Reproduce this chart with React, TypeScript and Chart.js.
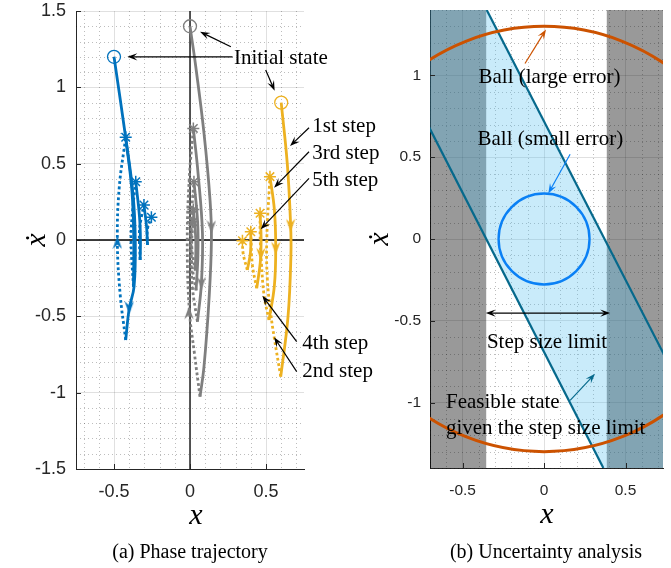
import React, { useEffect, useRef } from "react";
import { Chart, registerables } from "chart.js";
Chart.register(...registerables);

type P = [number, number];

// ================= (a) Phase trajectory =================
const xTicksA = [-0.5, 0, 0.5];
const yTicksA = [-1.5, -1, -0.5, 0, 0.5, 1, 1.5];

const blueInitial: P[] = [[-0.5, 1.2]];
const blueSolidSteps: P[][] = [
  [[-0.5, 1.2], [-0.423, 0.67], [-0.375, 0.3], [-0.36, 0.0], [-0.368, -0.306], [-0.4, -0.45], [-0.423, -0.655]],
  [[-0.423, 0.67], [-0.382, 0.32], [-0.37, 0.0], [-0.372, -0.306]],
  [[-0.357, 0.382], [-0.332, 0.15], [-0.326, 0.0], [-0.328, -0.131]],
  [[-0.303, 0.229], [-0.285, 0.08], [-0.28, -0.033]],
];
const blueDottedSteps: P[][] = [
  [[-0.423, -0.655], [-0.46, -0.35], [-0.478, 0.0], [-0.465, 0.35], [-0.423, 0.67]],
  [[-0.372, -0.306], [-0.388, 0.0], [-0.377, 0.2], [-0.357, 0.382]],
  [[-0.328, -0.131], [-0.333, 0.05], [-0.32, 0.15], [-0.303, 0.229]],
  [[-0.28, -0.033], [-0.28, 0.07], [-0.254, 0.149]],
];
const blueStars: P[] = [[-0.423, 0.673], [-0.357, 0.382], [-0.303, 0.229], [-0.254, 0.149]];
const blueArrowsDown: P[] = [[-0.4, -0.44]];
const blueArrowsUp: P[] = [[-0.478, -0.02]];

const grayInitial: P[] = [[0.0, 1.4]];
const graySolidSteps: P[][] = [
  [[0.0, 1.4], [0.038, 1.135], [0.092, 0.7], [0.132, 0.26], [0.141, 0.0], [0.125, -0.39], [0.092, -0.83], [0.066, -1.026]],
  [[0.022, 0.731], [0.053, 0.437], [0.082, 0.044], [0.075, -0.284], [0.049, -0.535]],
  [[0.026, 0.382], [0.05, 0.12], [0.052, -0.1], [0.04, -0.33]],
  [[0.022, 0.2], [0.038, 0.0], [0.035, -0.2]],
];
const grayDottedSteps: P[][] = [
  [[0.066, -1.026], [0.03, -0.75], [-0.005, -0.45], [-0.018, 0.0], [-0.005, 0.4], [0.022, 0.731]],
  [[0.049, -0.535], [0.015, -0.3], [0.005, 0.0], [0.012, 0.2], [0.026, 0.382]],
  [[0.04, -0.33], [0.012, -0.15], [0.008, 0.05], [0.022, 0.2]],
  [[0.035, -0.2], [0.012, -0.05], [0.02, 0.12]],
];
const grayStars: P[] = [[0.022, 0.731], [0.026, 0.382], [0.022, 0.2], [0.02, 0.12]];
const grayArrowsDown: P[] = [[0.141, 0.09], [0.075, -0.28]];
const grayArrowsUp: P[] = [[-0.007, -0.48]];

const orangeInitial: P[] = [[0.6, 0.9]];
const orangeSolidSteps: P[][] = [
  [[0.6, 0.9], [0.64, 0.5], [0.662, 0.1], [0.664, -0.1], [0.645, -0.5], [0.597, -0.895]],
  [[0.526, 0.415], [0.555, 0.2], [0.564, -0.05], [0.555, -0.3], [0.52, -0.524]],
  [[0.461, 0.175], [0.468, 0.0], [0.462, -0.15], [0.439, -0.316]],
  [[0.4, 0.054], [0.398, -0.08], [0.377, -0.196]],
];
const orangeDottedSteps: P[][] = [
  [[0.597, -0.895], [0.553, -0.633], [0.531, -0.48], [0.509, -0.26], [0.505, 0.0], [0.526, 0.415]],
  [[0.52, -0.524], [0.487, -0.36], [0.47, -0.15], [0.462, 0.0], [0.461, 0.175]],
  [[0.439, -0.316], [0.41, -0.16], [0.4, 0.054]],
  [[0.377, -0.196], [0.35, -0.09], [0.345, -0.005]],
];
const orangeStars: P[] = [[0.526, 0.415], [0.461, 0.175], [0.4, 0.054], [0.345, -0.005]];
const orangeArrowsDown: P[] = [[0.662, 0.1], [0.564, -0.05], [0.466, -0.09]];
const orangeArrowsUp: P[] = [];

// ================= (b) Uncertainty analysis =================
const xTicksB = [-0.5, 0, 0.5];
const yTicksB = [-1, -0.5, 0, 0.5, 1];
const stepLimitLeftBand: P[] = [[-0.7, 1.4], [-0.355, 1.4], [-0.355, -1.4], [-0.7, -1.4]];
const stepLimitRightBand: P[] = [[0.385, 1.4], [0.73, 1.4], [0.73, -1.4], [0.385, -1.4]];
const feasibleUpper: P[] = [[-0.352, 1.4], [0.8, -0.83]];
const feasibleLower: P[] = [[-0.75, 0.77], [0.364, -1.4]];
const feasibleRegion: P[] = [[-0.352, 1.4], [0.8, -0.83], [0.8, -1.4], [0.364, -1.4], [-0.75, 0.77], [-0.75, 1.4]];
const ballCenter: P[] = [[0, 0]];
const ballLargeRadius = 1.3;
const ballSmallRadius = 0.278;

// ================= styles =================
const BLUE = "#0072BD";
const GRAY = "#7f7f7f";
const YELLOW = "#EDB120";
const ORANGE = "#CC5200";
const LIGHTBLUE = "#0A80F5";
const TEAL = "#06698C";
const AXIS = "#262626";
const SERIF = '"Liberation Serif", "Times New Roman", serif';
const SANS = '"Liberation Sans", Arial, sans-serif';

const toXY = (ps: P[]) => ps.map(([x, y]) => ({ x, y }));

function makeHead(color: string, up: boolean) {
  const c = document.createElement("canvas");
  c.width = 10;
  c.height = 14;
  const g = c.getContext("2d")!;
  g.fillStyle = color;
  g.beginPath();
  if (!up) {
    g.moveTo(5, 14); g.lineTo(0.3, 1); g.lineTo(5, 5.5); g.lineTo(9.7, 1);
  } else {
    g.moveTo(5, 0); g.lineTo(0.3, 13); g.lineTo(5, 8.5); g.lineTo(9.7, 13);
  }
  g.closePath();
  g.fill();
  return c;
}

function makeScale(min: number, max: number, ticks: number[], size: number, padding: number, fit: { width?: number; height?: number }) {
  return {
    type: "linear",
    min,
    max,
    afterBuildTicks: (s: any) => { s.ticks = ticks.map((v) => ({ value: v })); },
    afterFit: (s: any) => {
      if (fit.width !== undefined) s.width = fit.width;
      if (fit.height !== undefined) s.height = fit.height;
      s.paddingTop = 0; s.paddingBottom = 0; s.paddingLeft = 0; s.paddingRight = 0;
    },
    ticks: { font: { family: SANS, size }, color: AXIS, padding, maxRotation: 0, autoSkip: false, callback: (v: any) => String(v) },
    grid: { color: "rgba(0,0,0,0.12)", lineWidth: 1, drawTicks: false },
    border: { display: true, color: AXIS, width: 1 },
  };
}

function drawArrow(ctx: CanvasRenderingContext2D, x1: number, y1: number, x2: number, y2: number, color: string, both = false) {
  const head = 10, hw = 3.6;
  const a = Math.atan2(y2 - y1, x2 - x1);
  const c = Math.cos(a), s = Math.sin(a);
  ctx.save();
  ctx.strokeStyle = color; ctx.fillStyle = color; ctx.lineWidth = 1.2; ctx.setLineDash([]);
  const sx = both ? x1 + 0.6 * head * c : x1, sy = both ? y1 + 0.6 * head * s : y1;
  ctx.beginPath(); ctx.moveTo(sx, sy); ctx.lineTo(x2 - 0.6 * head * c, y2 - 0.6 * head * s); ctx.stroke();
  const hd = (x: number, y: number, cc: number, ss: number) => {
    ctx.beginPath();
    ctx.moveTo(x, y);
    ctx.lineTo(x - head * cc + hw * ss, y - head * ss - hw * cc);
    ctx.lineTo(x - 0.6 * head * cc, y - 0.6 * head * ss);
    ctx.lineTo(x - head * cc - hw * ss, y - head * ss + hw * cc);
    ctx.closePath(); ctx.fill();
  };
  hd(x2, y2, c, s);
  if (both) hd(x1, y1, -c, -s);
  ctx.restore();
}

const gridPlugin = {
  id: "minorGrid",
  beforeDatasetsDraw(chart: any, _a: any, opts: any) {
    const { ctx, chartArea: { left, right, top, bottom }, scales: { x, y } } = chart;
    ctx.save();
    ctx.strokeStyle = "rgba(0,0,0,0.26)";
    ctx.lineWidth = 1;
    ctx.setLineDash([1, 3]);
    for (let v = Math.ceil(x.min * 10 - 1e-9); v <= Math.floor(x.max * 10 + 1e-9); v++) {
      if (v % 5 === 0) continue;
      const px = Math.round(x.getPixelForValue(v / 10)) + 0.5;
      ctx.beginPath(); ctx.moveTo(px, top); ctx.lineTo(px, bottom); ctx.stroke();
    }
    for (let v = Math.ceil(y.min * 10 - 1e-9); v <= Math.floor(y.max * 10 + 1e-9); v++) {
      if (v % 5 === 0) continue;
      const py = Math.round(y.getPixelForValue(v / 10)) + 0.5;
      ctx.beginPath(); ctx.moveTo(left, py); ctx.lineTo(right, py); ctx.stroke();
    }
    ctx.setLineDash([]);
    if (opts.zeroLines) {
      ctx.strokeStyle = "#000";
      ctx.lineWidth = 1.3;
      const px = x.getPixelForValue(0), py = y.getPixelForValue(0);
      ctx.beginPath(); ctx.moveTo(px, top); ctx.lineTo(px, bottom); ctx.stroke();
      ctx.beginPath(); ctx.moveTo(left, py); ctx.lineTo(right, py); ctx.stroke();
    }
    ctx.restore();
  },
};

const annPlugin = {
  id: "ann",
  afterDraw(chart: any, _a: any, opts: any) {
    const { ctx, chartArea: { left, bottom }, scales: { x, y } } = chart;
    ctx.save();
    // inward ticks
    ctx.strokeStyle = AXIS; ctx.lineWidth = 1;
    for (const t of x.ticks) {
      const px = Math.round(x.getPixelForValue(t.value)) + 0.5;
      ctx.beginPath(); ctx.moveTo(px, bottom); ctx.lineTo(px, bottom - 5); ctx.stroke();
    }
    for (const t of y.ticks) {
      const py = Math.round(y.getPixelForValue(t.value)) + 0.5;
      ctx.beginPath(); ctx.moveTo(left, py); ctx.lineTo(left + 5, py); ctx.stroke();
    }
    // arrows
    for (const a of opts.arrows) {
      drawArrow(ctx, x.getPixelForValue(a.from[0]), y.getPixelForValue(a.from[1]), x.getPixelForValue(a.to[0]), y.getPixelForValue(a.to[1]), a.color || "#000", !!a.both);
    }
    // texts
    ctx.fillStyle = "#000";
    ctx.textBaseline = "middle";
    ctx.font = `${opts.fontSize}px ${SERIF}`;
    for (const t of opts.texts) {
      ctx.textAlign = t.align || "left";
      ctx.fillText(t.t, x.getPixelForValue(t.x), y.getPixelForValue(t.y));
    }
    // axis titles
    ctx.font = `italic ${opts.titleSize}px ${SERIF}`;
    ctx.textAlign = "center";
    ctx.fillText("x", opts.xTitle[0], opts.xTitle[1]);
    ctx.translate(opts.yTitle[0], opts.yTitle[1]);
    ctx.rotate(-Math.PI / 2);
    ctx.fillText("ẋ", 0, 0);
    ctx.restore();
  },
};

function trajectory(color: string, initial: P[], solids: P[][], dotteds: P[][], stars: P[], down: P[], up: P[]) {
  const ds: any[] = [];
  ds.push({ data: toXY(initial), showLine: false, pointStyle: "circle", pointRadius: 6.5, pointBorderWidth: 1.3, pointBorderColor: color, pointBackgroundColor: "rgba(0,0,0,0)", order: 0 });
  ds.push({ data: toXY(stars), showLine: false, pointStyle: "star", pointRadius: 6, pointBorderWidth: 1.5, pointBorderColor: color, order: 0 });
  ds.push({ data: toXY(down), showLine: false, pointStyle: makeHead(color, false), pointRadius: 4, order: 1 });
  if (up.length) ds.push({ data: toXY(up), showLine: false, pointStyle: makeHead(color, true), pointRadius: 4, order: 1 });
  for (const s of solids) ds.push({ data: toXY(s), showLine: true, borderColor: color, borderWidth: 2.8, pointRadius: 0, tension: 0.4, fill: false, order: 2 });
  for (const d of dotteds) ds.push({ data: toXY(d), showLine: true, borderColor: color, borderWidth: 2.8, borderDash: [2.8, 2.6], pointRadius: 0, tension: 0.4, fill: false, order: 3 });
  return ds;
}

function configA(): any {
  return {
    type: "line",
    data: {
      datasets: [
        ...trajectory(BLUE, blueInitial, blueSolidSteps, blueDottedSteps, blueStars, blueArrowsDown, blueArrowsUp),
        ...trajectory(GRAY, grayInitial, graySolidSteps, grayDottedSteps, grayStars, grayArrowsDown, grayArrowsUp),
        ...trajectory(YELLOW, orangeInitial, orangeSolidSteps, orangeDottedSteps, orangeStars, orangeArrowsDown, orangeArrowsUp),
      ],
    },
    options: {
      responsive: false,
      animation: false,
      events: [],
      layout: { padding: { left: 0, right: 81, top: 11, bottom: 0 } },
      scales: {
        x: makeScale(-0.75, 0.75, xTicksA, 18, 12, { height: 99 }),
        y: makeScale(-1.5, 1.5, yTicksA, 18, 10, { width: 76 }),
      },
      plugins: {
        legend: { display: false },
        tooltip: { enabled: false },
        minorGrid: { zeroLines: true },
        ann: {
          fontSize: 21,
          titleSize: 30,
          xTitle: [196, 516],
          yTitle: [37, 240],
          texts: [
            { t: "Initial state", x: 0.289, y: 1.19 },
            { t: "1st step", x: 0.805, y: 0.742 },
            { t: "3rd step", x: 0.805, y: 0.568 },
            { t: "5th step", x: 0.805, y: 0.388 },
            { t: "4th step", x: 0.739, y: -0.677 },
            { t: "2nd step", x: 0.739, y: -0.858 },
          ],
          arrows: [
            { from: [0.28, 1.2], to: [-0.412, 1.2] },
            { from: [0.269, 1.266], to: [0.066, 1.364] },
            { from: [0.498, 1.113], to: [0.557, 0.978] },
            { from: [0.783, 0.735], to: [0.658, 0.616] },
            { from: [0.783, 0.578], to: [0.553, 0.343] },
            { from: [0.783, 0.404], to: [0.465, 0.07] },
            { from: [0.702, -0.666], to: [0.476, -0.365] },
            { from: [0.702, -0.862], to: [0.553, -0.637] },
          ],
        },
      },
    },
    plugins: [gridPlugin, annPlugin],
  };
}

function configB(): any {
  const radiusPx = (r: number) => (ctx: any) => {
    const s = ctx.chart.scales.y;
    return s.getPixelForValue(0) - s.getPixelForValue(r);
  };
  return {
    type: "line",
    data: {
      datasets: [
        { data: toXY(ballCenter), showLine: false, pointStyle: "circle", pointRadius: radiusPx(ballSmallRadius), pointBorderWidth: 2.4, pointBorderColor: LIGHTBLUE, pointBackgroundColor: "rgba(0,0,0,0)", clip: 0, order: 0 },
        { data: toXY(ballCenter), showLine: false, pointStyle: "circle", pointRadius: radiusPx(ballLargeRadius), pointBorderWidth: 3, pointBorderColor: ORANGE, pointBackgroundColor: "rgba(0,0,0,0)", clip: 0, order: 1 },
        { data: toXY(feasibleUpper), borderColor: TEAL, borderWidth: 2.2, pointRadius: 0, tension: 0, fill: false, clip: 0, order: 2 },
        { data: toXY(feasibleLower), borderColor: TEAL, borderWidth: 2.2, pointRadius: 0, tension: 0, fill: false, clip: 0, order: 2 },
        { data: toXY(feasibleRegion), borderWidth: 0, borderColor: "rgba(0,0,0,0)", backgroundColor: "rgba(77,190,238,0.3)", pointRadius: 0, tension: 0, fill: "shape", clip: 0, order: 3 },
        { data: toXY(stepLimitLeftBand), borderWidth: 0, borderColor: "rgba(0,0,0,0)", backgroundColor: "rgba(0,0,0,0.4)", pointRadius: 0, tension: 0, fill: "shape", clip: 0, order: 4 },
        { data: toXY(stepLimitRightBand), borderWidth: 0, borderColor: "rgba(0,0,0,0)", backgroundColor: "rgba(0,0,0,0.4)", pointRadius: 0, tension: 0, fill: "shape", clip: 0, order: 4 },
      ],
    },
    options: {
      responsive: false,
      animation: false,
      events: [],
      layout: { padding: { left: 0, right: 8, top: 10, bottom: 0 } },
      scales: {
        x: makeScale(-0.7, 0.73, xTicksB, 15.5, 13, { height: 100 }),
        y: makeScale(-1.4, 1.4, yTicksB, 15.5, 9, { width: 90 }),
      },
      plugins: {
        legend: { display: false },
        tooltip: { enabled: false },
        minorGrid: { zeroLines: false },
        ann: {
          fontSize: 21,
          titleSize: 30,
          xTitle: [207, 515],
          yTitle: [40, 239],
          texts: [
            { t: "Ball (large error)", x: 0.033, y: 0.988, align: "center" },
            { t: "Ball (small error)", x: 0.039, y: 0.608, align: "center" },
            { t: "Step size limit", x: 0.018, y: -0.63, align: "center" },
            { t: "Feasible state", x: -0.602, y: -0.998 },
            { t: "given the step size limit", x: -0.602, y: -1.16 },
          ],
          arrows: [
            { from: [-0.117, 1.073], to: [0.012, 1.281], color: ORANGE },
            { from: [0.16, 0.518], to: [0.026, 0.278], color: LIGHTBLUE },
            { from: [0.16, -0.987], to: [0.313, -0.824], color: TEAL },
            { from: [-0.358, -0.453], to: [0.406, -0.453], both: true },
          ],
        },
      },
    },
    plugins: [gridPlugin, annPlugin],
  };
}

export default function App() {
  const refA = useRef<HTMLCanvasElement>(null);
  const refB = useRef<HTMLCanvasElement>(null);
  useEffect(() => {
    const ca = new Chart(refA.current!, configA());
    const cb = new Chart(refB.current!, configB());
    return () => {
      ca.destroy();
      cb.destroy();
    };
  }, []);
  const cap: React.CSSProperties = { position: "absolute", width: 300, top: 538, textAlign: "center", fontFamily: SERIF, fontSize: 20, lineHeight: "26px", color: "#000", whiteSpace: "nowrap" };
  return (
    <div style={{ position: "absolute", left: 0, top: 0, width: 671, height: 568, background: "#fff", overflow: "hidden" }}>
      <canvas ref={refA} width={385} height={568} style={{ position: "absolute", left: 0, top: 0, width: 385, height: 568 }} />
      <canvas ref={refB} width={331} height={568} style={{ position: "absolute", left: 340, top: 0, width: 331, height: 568 }} />
      <div style={{ ...cap, left: 40 }}>(a) Phase trajectory</div>
      <div style={{ ...cap, left: 396 }}>(b) Uncertainty analysis</div>
    </div>
  );
}
